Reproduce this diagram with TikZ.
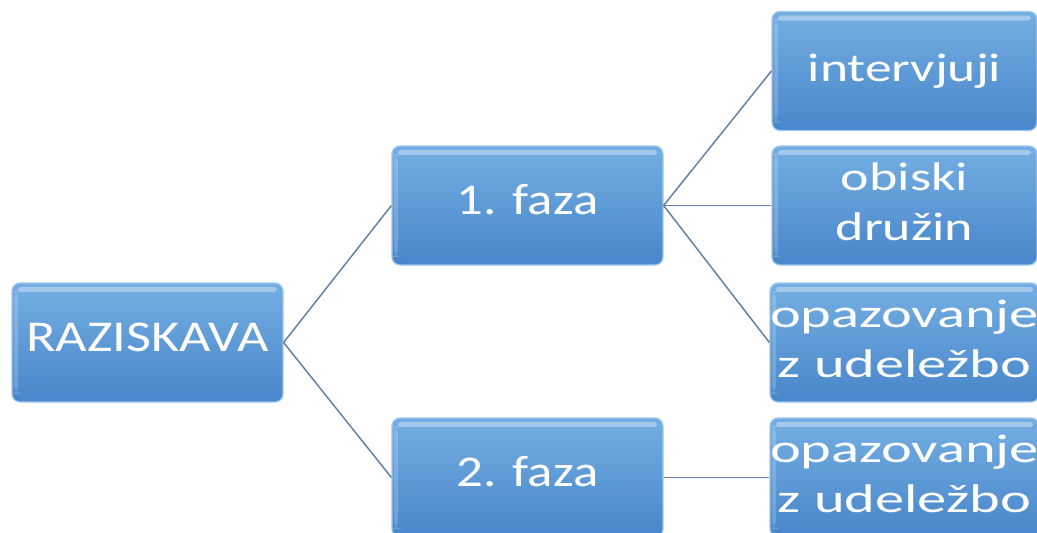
\documentclass[tikz,border=0pt]{standalone}
\usepackage{fontspec}
\setmainfont{Carlito}
\usepackage{graphicx}
\definecolor{boxtop}{HTML}{74AEE2}
\definecolor{boxbot}{HTML}{4886CA}
\definecolor{boxedge}{HTML}{9CC8EE}
\definecolor{linkcol}{HTML}{6483A3}
% horizontally widened, centred text block
\newcommand{\boxtext}[2][1.2]{\scalebox{#1}[1]{\begin{tabular}{@{}c@{}}#2\end{tabular}}}
\tikzset{
  card/.style={rectangle, rounded corners=8pt, minimum width=271pt, minimum height=119pt,
    inner sep=0pt, top color=boxtop, bottom color=boxbot, draw=boxedge, line width=1.2pt,
    text=white, font=\fontsize{44}{46}\selectfont,
    path picture={
      \fill[white, opacity=0.35, rounded corners=3pt]
        ([xshift=6pt,yshift=-4pt]path picture bounding box.north west) rectangle
        ([xshift=-6pt,yshift=-9pt]path picture bounding box.north east);
      \fill[white, opacity=0.18]
        ([xshift=2pt,yshift=-8pt]path picture bounding box.north west) rectangle
        ([xshift=6pt,yshift=8pt]path picture bounding box.south west);
    }},
  leaf/.style={card, minimum width=265pt, font=\fontsize{40}{50}\selectfont},
  link/.style={draw=linkcol, line width=1.5pt}
}
\begin{document}
\begin{tikzpicture}[x=1pt, y=-1pt]
\useasboundingbox (0,0) rectangle (1037,533);
\node[card] (root) at (147.5,342.5) {\boxtext[1.235]{RAZISKAVA}};
\node[card] (f1) at (527.5,205.5) {\boxtext{1. faza}};
\node[card] (f2) at (527.5,477.5) {\boxtext{2. faza}};
\node[leaf] (a1) at (904.5,71) {\boxtext[1.34]{intervjuji}};
\node[leaf] (a2) at (904.5,205.5) {\boxtext[1.35]{obiski\\družin}};
\node[leaf] (a3) at (904.5,342.5) {\boxtext[1.46]{opazovanje\\z udeležbo}};
\node[leaf] (b1) at (904.5,477.5) {\boxtext[1.46]{opazovanje\\z udeležbo}};
\draw[link] (root.east) -- (f1.west);
\draw[link] (root.east) -- (f2.west);
\draw[link] (f1.east) -- (a1.west);
\draw[link] (f1.east) -- (a2.west);
\draw[link] (f1.east) -- (a3.west);
\draw[link] (f2.east) -- (b1.west);
\end{tikzpicture}
\end{document}
